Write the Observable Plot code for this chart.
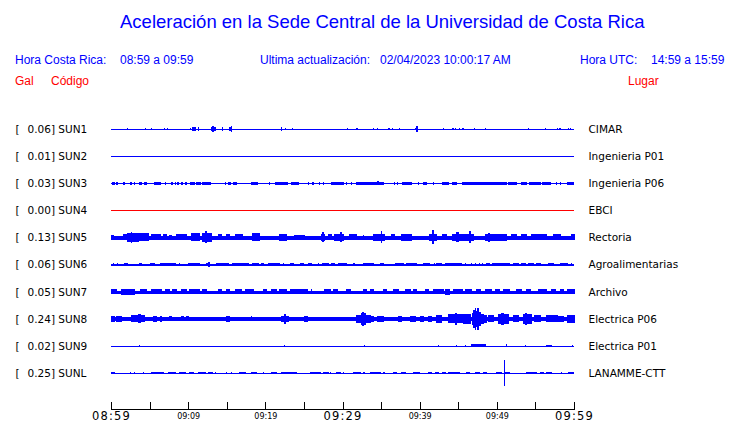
<!DOCTYPE html>
<html>
<head>
<meta charset="utf-8">
<script src="https://cdn.jsdelivr.net/npm/d3@7"></script>
<script src="https://cdn.jsdelivr.net/npm/@observablehq/plot@0.6"></script>
<style>
  html, body { margin: 0; padding: 0; background: #ffffff; }
  #wrap { position: relative; width: 740px; height: 423px; overflow: hidden; background: #fff; }
  .hd { position: absolute; font-family: "Liberation Sans", Arial, sans-serif; white-space: pre; line-height: 1; }
  .blue { color: #0000ff; }
  .red { color: #ff0000; }
  #chart { position: absolute; left: 0; top: 0; }
</style>
</head>
<body>
<div id="wrap">
  <div class="hd blue" style="left:120px;top:13px;font-size:18.5px;">Aceleración en la Sede Central de la Universidad de Costa Rica</div>
  <div class="hd blue" style="left:15px;top:54px;font-size:12px;">Hora Costa Rica:</div>
  <div class="hd blue" style="left:120px;top:54px;font-size:12px;">08:59 a 09:59</div>
  <div class="hd blue" style="left:260px;top:54px;font-size:12px;">Ultima actualización:</div>
  <div class="hd blue" style="left:380px;top:54px;font-size:12px;">02/04/2023 10:00:17 AM</div>
  <div class="hd blue" style="left:580px;top:54px;font-size:12px;">Hora UTC:</div>
  <div class="hd blue" style="left:651px;top:54px;font-size:12px;">14:59 a 15:59</div>
  <div class="hd red" style="left:15px;top:75px;font-size:12px;">Gal</div>
  <div class="hd red" style="left:51px;top:75px;font-size:12px;">Código</div>
  <div class="hd red" style="left:628px;top:75px;font-size:12px;">Lugar</div>
  <div id="chart"></div>
</div>
<script>
// ---- Data ----
const codes  = ["SUN1","SUN2","SUN3","SUN4","SUN5","SUN6","SUN7","SUN8","SUN9","SUNL"];
const gal    = [0.06, 0.01, 0.03, 0.00, 0.13, 0.06, 0.05, 0.24, 0.02, 0.25];
const places = ["CIMAR","Ingenieria P01","Ingenieria P06","EBCI","Rectoria","Agroalimentarias","Archivo","Electrica P06","Electrica P01","LANAMME-CTT"];
// background noise half-amplitude of each trace (amplitude units)
const noiseAmp = [0.6, 0.5, 0.6, 0.5, 1.8, 0.6, 1.5, 2.0, 0.5, 0.6];
// typical half-amplitude of a burst on each trace (amplitude units)
const burstAmp = [1.3, 0.0, 1.4, 0.0, 3.0, 1.5, 2.5, 3.0, 1.2, 1.4];

// bursts: [start minute, end minute, half-amplitude (optional)] ; minute 0 = 08:59
const sun1 = [[2.1,2.1,1],[4.5,4.5,1],[5.3,5.3],[6.9,6.9],[7.3,7.3],[10.3,10.3],[10.6,11.0,1.6],[11.3,11.3,1.6],[13.0,13.6,2],[13.2,13.3,2.5],[14.5,14.5,1.5],[15.4,15.5,1.5],[15.6,15.6,3],[22.1,22.1,2.2],[22.6,22.6],[23.5,23.5,1],[30.6,30.6,1],[31.8,31.9,1.4],[34.0,34.0,1],[34.5,34.5,1],[36.0,36.1],[36.5,36.5,1],[37.4,37.4,1],[39.4,39.4,1],[39.6,39.7,2.5],[43.1,43.1,0.8],[44.3,44.4],[44.6,44.6,1],[45.1,45.1,1],[45.5,45.5,1],[45.7,45.7,1],[47.1,47.1,1],[48.5,48.5,1],[54.1,54.1,1.2],[56.3,56.3,0.8],[57.8,57.8],[58.1,58.1],[58.3,58.3,1],[59.3,59.3],[59.6,59.6]];
const sun2 = [];
const sun3 = [[0.17,0.43],[0.65,0.87],[1.6,1.8],[2.5,2.7],[3.1,3.1],[3.7,4.0],[4.3,4.6],[5.7,6.4],[7.0,7.0],[7.8,8.0],[8.3,8.3],[8.6,8.8],[9.1,9.3],[9.6,9.8],[10.3,10.8],[11.1,11.6],[11.9,12.9],[14.8,14.8],[15.2,15.5],[15.9,16.3],[18.2,19.0],[20.5,20.5],[21.3,22.3],[22.5,22.9],[23.4,24.3],[25.6,25.6],[26.1,26.3],[27.0,27.0],[27.6,27.6],[28.6,30.1],[30.5,30.5],[31.2,31.2],[31.8,32.3],[32.5,34.0],[34.2,35.3],[34.6,34.7,2],[36.7,36.7],[37.1,37.1],[37.8,39.0],[39.8,39.8],[40.5,40.9],[41.8,41.8],[42.9,43.7],[44.2,44.8],[45.5,45.5],[45.7,51.3],[51.5,52.6],[53.2,53.9],[54.2,55.6],[55.9,56.9],[57.7,57.7],[58.2,58.2],[59.1,59.9]];
const sun4 = [];
const sun5 = [[0,0.3,2.3],[1.6,2.0],[2.2,3.5,4.5],[2.6,2.7,5.5],[3.6,4.8,4],[5.2,5.5],[5.7,6.4],[6.8,7.2],[7.6,7.9,2.7],[8.5,9.8],[10.4,11.5,4],[11.8,13.0,4.5],[12.3,12.4,6],[13.9,14.3],[15.0,15.4],[16.1,17.1],[18.4,19.3,4],[21.9,22.8,3.5],[23.8,25.1,2.5],[27.3,27.7,3.5],[27.4,27.5,5],[28.2,28.6],[29.0,30.1,3.5],[29.8,29.9,5],[30.9,31.8],[32.7,32.7,2.7],[34.0,35.5,3.5],[35.0,35.1,6],[36.4,36.8],[37.7,39.0,3.5],[41.3,42.2,3.5],[41.7,41.8,7],[43.0,43.5],[44.2,47.0,3.5],[44.8,45.0,5],[46.5,46.6,6],[48.5,51.3,3.5],[48.9,49.1,4.5],[51.9,52.6],[53.2,53.9],[54.5,56.5],[57.3,58.2],[59.7,60]];
const sun6 = [[0.3,0.3],[0.9,0.9],[1.8,2.2],[3.7,4.0],[5.1,5.7],[6.4,8.3],[8.9,8.9],[10.1,11.5],[12.4,12.8],[12.6,12.7,2.2],[13.7,15.2],[15.8,17.8],[18.4,19.1],[19.5,19.7],[20.4,21.9],[22.3,22.3],[23.2,23.6],[24.5,24.9],[25.6,26.0],[26.9,26.9],[27.4,28.2],[28.6,29.0],[29.5,30.5],[31.4,31.6],[32.7,33.6],[33.6,34.0],[34.9,35.3],[36.9,37.9],[38.3,39.6],[40.5,41.1],[41.3,41.3],[41.9,41.9],[42.2,42.8],[43.3,45.4],[45.9,45.9],[46.7,46.7],[47.3,47.3],[47.8,47.8],[48.2,48.2],[48.7,49.1],[49.4,51.7],[52.1,52.8],[53.2,53.7],[54.1,54.8],[55.2,55.6],[56.7,57.3],[58.2,59.2],[59.7,59.7]];
const sun7 = [[0.1,0.7],[1.4,3.1,3],[3.8,4.6],[5.3,6.6],[7.0,7.6],[8.0,8.5],[9.2,9.8],[10.2,11.5],[11.8,12.4],[13.9,14.3],[15.0,15.4],[16.1,16.9],[17.4,18.5],[19.7,20.2],[20.8,21.5],[21.9,22.8],[23.2,24.5],[24.7,25.4],[26.0,26.0],[27.7,28.4],[28.8,29.3],[30.5,31.0],[32.7,33.1],[33.6,34.0],[35.3,35.7],[36.6,37.2],[38.1,38.8],[39.2,39.6],[40.7,41.1],[41.8,43.1],[43.4,43.9,3],[44.4,45.5],[45.9,46.7],[47.4,47.9],[48.5,49.3],[49.8,50.3],[50.8,51.7],[52.6,53.2],[53.9,54.3],[55.4,56.5],[57.1,57.6],[58.2,58.6],[59.2,60]];
const sun8 = [[0,0.5],[0.7,1.4],[2.7,4.4,3.5],[3.6,3.8,4.5],[5.5,5.9],[6.4,6.6],[7.6,7.8,2.7],[9.2,9.4,2.7],[9.8,10.0,2.7],[15.0,15.4],[18.2,18.2,2.7],[22.1,23.0],[22.5,22.6,5],[25.1,25.5],[31.8,33.6,4],[32.4,33.0,6],[32.6,32.7,7],[33.6,34.0],[34.6,35.3],[37.2,37.7],[38.8,39.4],[40.1,40.5],[41.1,41.5],[42.2,42.8,4],[43.7,45.5,4.5],[44.6,44.8,6],[45.7,46.6,5],[46.8,47.0,6],[47.0,47.2,9],[47.2,47.3,11],[47.3,47.5,8],[47.5,47.6,11],[47.6,47.9,7],[47.9,48.3,5],[48.3,48.7,4],[48.9,49.6,3.5],[50.2,51.5,5],[50.6,50.8,6],[52.1,52.8,3.5],[53.4,54.5,5],[53.7,53.9,6],[54.9,55.6,3.5],[56.5,57.8,3.5],[58.0,58.6],[59.2,60,4]];
const sun9 = [[3.7,3.7],[22.5,22.5],[32.9,32.9],[42.5,42.5],[44.8,44.8],[45.9,45.9],[46.7,48.5,1.4],[51.3,51.3,1.5],[53.7,53.7],[56.5,57.1],[59.8,59.8]];
const sunl = [[0,0.5],[2.5,2.5],[3.1,3.1],[4.2,4.2],[5.3,6.8],[7.4,8.3],[8.9,9.6],[10.2,10.7],[11.3,12.2],[12.6,13.1],[13.5,13.5],[15.0,15.0],[15.6,15.6],[16.7,17.4],[18.2,18.9],[19.7,19.7],[20.8,21.5],[22.1,24.1],[25.8,27.1],[27.5,28.2],[28.4,28.4],[29.2,29.7],[30.1,30.1],[31.4,32.3],[32.7,32.9],[33.6,34.9],[35.3,35.5],[36.6,37.0],[37.7,38.1],[39.2,40.0],[41.1,41.5],[42.0,42.4],[42.9,43.3],[43.7,45.2],[46.1,46.5],[47.2,47.8],[48.3,48.7],[50.0,50.6],[51.0,51.0,12.5],[51.1,51.7],[53.9,55.1],[55.6,56.1],[56.5,57.1],[58.4,58.4],[59.3,59.9]];
const burstsByStation = [sun1, sun2, sun3, sun4, sun5, sun6, sun7, sun8, sun9, sunl];

// time axis (minutes after 08:59)
const tickMinutes = [0,5,10,15,20,25,30,35,40,45,50,55,60];
const majorTickMinutes = [0,30,60];
const majorTickLabels = ["08:59","09:29","09:59"];
const minorTickMinutes = [10,20,40,50];
const minorTickLabels = ["09:09","09:19","09:39","09:49"];

// ---- Build tables ----
const ROW = 27.1; // amplitude units per row spacing
const stations = codes.map((c, i) => ({i, code: c, gal: gal[i], place: places[i], noise: noiseAmp[i]}));
const bursts = [];
burstsByStation.forEach((arr, i) => arr.forEach(([t0, t1, a]) => bursts.push({i, t0, t1, a: a ?? burstAmp[i]})));
const traceColor = d => d.gal === 0 ? "#ff0000" : "#0000ff";

const chart = Plot.plot({
  width: 740,
  height: 423,
  marginLeft: 111,
  marginRight: 166,
  marginTop: 0,
  marginBottom: 14,
  x: {domain: [0, 60], axis: null},
  y: {domain: [0, 9], range: [129, 373], axis: null},
  color: {type: "identity"},
  style: {background: "transparent", fontFamily: "'DejaVu Sans', sans-serif", color: "#000"},
  marks: [
    Plot.ruleY(stations, {y: "i", stroke: traceColor, strokeWidth: d => Math.max(1, 2 * d.noise), shapeRendering: "crispEdges"}),
    Plot.rect(bursts, {
      x1: "t0", x2: "t1",
      y1: d => d.i - d.a / ROW, y2: d => d.i + d.a / ROW,
      fill: d => traceColor(stations[d.i]),
      insetLeft: -0.5, insetRight: -0.5,
      shapeRendering: "crispEdges"
    }),
    Plot.text(stations, {frameAnchor: "left", y: "i", text: () => "[", dx: -96, textAnchor: "start", fontSize: 10.5, fill: "#000"}),
    Plot.text(stations, {frameAnchor: "left", y: "i", text: d => `${d.gal.toFixed(2)}] ${d.code}`, dx: -84, textAnchor: "start", fontSize: 10.5, fill: "#000"}),
    Plot.text(stations, {frameAnchor: "right", y: "i", text: "place", dx: 14, textAnchor: "start", fontSize: 10.5, fill: "#000"}),
    Plot.frame({anchor: "bottom", stroke: "#000", shapeRendering: "crispEdges"}),
    Plot.ruleX(tickMinutes, {x: d => d, insetTop: 402, stroke: "#000", shapeRendering: "crispEdges"}),
    Plot.text(majorTickMinutes, {x: d => d, text: (d, i) => majorTickLabels[i], frameAnchor: "bottom", dy: 10.5, fontSize: 11.5, fill: "#000", ariaLabel: "major-ticks"}),
    Plot.text(minorTickMinutes, {x: d => d, text: (d, i) => minorTickLabels[i], frameAnchor: "bottom", dy: 9, fontSize: 8, fill: "#000", ariaLabel: "minor-ticks"})
  ]
});
d3.select(chart).selectAll("text")
  .filter(function() { return majorTickLabels.includes(this.textContent); })
  .attr("letter-spacing", "1.2px");
document.getElementById("chart").appendChild(chart);
</script>
</body>
</html>
